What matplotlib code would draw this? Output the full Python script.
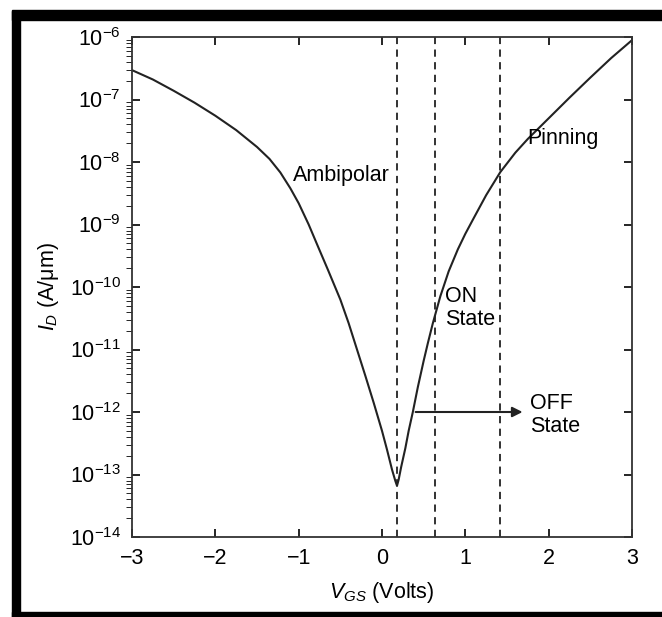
import matplotlib
matplotlib.use('Agg')
import matplotlib.pyplot as plt
from matplotlib.patches import Rectangle

plt.rcParams['font.family'] = ['Liberation Sans', 'DejaVu Sans']
plt.rcParams['mathtext.fontset'] = 'custom'
plt.rcParams['mathtext.rm'] = 'Liberation Sans'
plt.rcParams['mathtext.it'] = 'Liberation Sans:italic'

# gate voltage (V) and drain current (A/um)
vgs = [-3.0, -2.75, -2.5, -2.25, -2.0, -1.75, -1.5, -1.35, -1.22, -1.1, -1.0, -0.88,
       -0.77, -0.65, -0.5, -0.4, -0.3, -0.2, -0.1, 0.0, 0.06, 0.12, 0.16, 0.18,
       0.20, 0.23, 0.28, 0.32, 0.37, 0.43, 0.5, 0.55, 0.61, 0.70, 0.8, 0.91, 1.0,
       1.1, 1.25, 1.42, 1.6, 1.75, 2.0, 2.25, 2.5, 2.75, 3.0]
i_d = [2.95e-7, 2.09e-7, 1.38e-7, 8.9e-8, 5.5e-8, 3.24e-8, 1.74e-8, 1.12e-8, 6.8e-9,
       3.8e-9, 2.19e-9, 1.0e-9, 4.5e-10, 1.9e-10, 6.3e-11, 2.63e-11, 1.0e-11, 3.8e-12,
       1.41e-12, 5.0e-13, 2.5e-13, 1.2e-13, 7.9e-14, 6.6e-14,
       8.3e-14, 1.32e-13, 2.63e-13, 5.0e-13, 1.0e-12, 2.5e-12, 6.6e-12, 1.26e-11,
       2.63e-11, 7.1e-11, 1.78e-10, 4.0e-10, 7.1e-10, 1.26e-9, 2.95e-9, 6.9e-9,
       1.41e-8, 2.34e-8, 5.0e-8, 1.07e-7, 2.24e-7, 4.6e-7, 8.9e-7]

boundaries = [0.18, 0.63, 1.42]
off_level = 1e-12
arrow_x = [0.37, 1.72]

fig = plt.figure(figsize=(6.62, 6.17), dpi=100)
ax = fig.add_axes([132/662, 1-537/617, 500/662, 500/617])

ax.plot(vgs, i_d, color='#222222', lw=1.5)
for b in boundaries:
    ax.axvline(b, color='#222222', lw=1.3, ls=(0, (4, 3)))

ax.annotate('', xy=(arrow_x[1], off_level), xytext=(arrow_x[0], off_level),
            arrowprops=dict(arrowstyle='-|>', color='#222222', lw=1.5, mutation_scale=15))

fs = 15.5
ax.text(1.78, 10**-12.05, 'OFF\nState', fontsize=fs, ha='left', va='center', linespacing=1.15)
ax.text(0.76, 10**-10.34, 'ON\nState', fontsize=fs, ha='left', va='center', linespacing=1.15)
ax.text(-1.07, 10**-8.21, 'Ambipolar', fontsize=fs, ha='left', va='center')
ax.text(1.74, 10**-7.62, 'Pinning', fontsize=fs, ha='left', va='center')

ax.set_yscale('log')
ax.set_xlim(-3, 3)
ax.set_ylim(1e-14, 1e-6)
ax.set_xticks([-3, -2, -1, 0, 1, 2, 3])
ax.set_xticklabels(['\u22123', '\u22122', '\u22121', '0', '1', '2', '3'])
ax.tick_params(direction='in', top=True, right=True, labelsize=fs, width=1.2)
ax.tick_params(which='major', length=6, pad=8)
ax.tick_params(which='minor', length=4)
ax.yaxis.set_minor_locator(matplotlib.ticker.LogLocator(base=10, subs=range(2, 10), numticks=20))
ax.yaxis.set_minor_formatter(matplotlib.ticker.NullFormatter())
for s in ax.spines.values():
    s.set_linewidth(1.3)
    s.set_color('#333333')

ax.set_xlabel('$V_{GS}$ (Volts)', fontsize=fs, labelpad=8)
ax.set_ylabel('$I_D$ (A/\u03bcm)', fontsize=fs, labelpad=6)

# black frame around the picture
k = dict(transform=fig.transFigure, color='black', zorder=10)
fig.patches.append(Rectangle((12/662, 1-20/617), 1, 10/617, **k))
fig.patches.append(Rectangle((12/662, 0), 8/662, 1-11/617, **k))
fig.patches.append(Rectangle((12/662, 0), 1, 5/617, **k))

fig.savefig('out.png', dpi=100)
